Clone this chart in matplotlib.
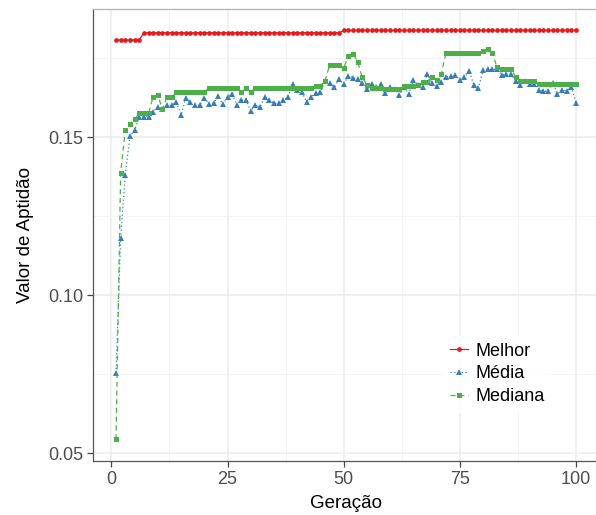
import numpy as np
import matplotlib
matplotlib.use("Agg")
import matplotlib.pyplot as plt
from matplotlib.ticker import MultipleLocator

plt.rcParams['font.family'] = ['Liberation Sans', 'DejaVu Sans']

# Evolução da aptidão por geração
geracao = list(range(1, 101))

melhor = [0.1807] * 6 + [0.1830] * 43 + [0.1837] * 51

media = [
    0.0753, 0.1180, 0.1380, 0.1502, 0.1522, 0.1564, 0.1564, 0.1564, 0.1580, 0.1596,
    0.1588, 0.1600, 0.1600, 0.1610, 0.1570, 0.1622, 0.1610, 0.1600, 0.1600, 0.1625,
    0.1604, 0.1608, 0.1629, 0.1603, 0.1627, 0.1636, 0.1601, 0.1617, 0.1617, 0.1582,
    0.1601, 0.1595, 0.1627, 0.1617, 0.1607, 0.1607, 0.1617, 0.1626, 0.1668, 0.1649,
    0.1642, 0.1612, 0.1628, 0.1638, 0.1643, 0.1678, 0.1672, 0.1657, 0.1682, 0.1668,
    0.1693, 0.1688, 0.1682, 0.1670, 0.1651, 0.1668, 0.1659, 0.1668, 0.1640, 0.1657,
    0.1651, 0.1633, 0.1659, 0.1636, 0.1680, 0.1665, 0.1657, 0.1700, 0.1670, 0.1661,
    0.1675, 0.1689, 0.1692, 0.1695, 0.1681, 0.1689, 0.1710, 0.1665, 0.1654, 0.1712,
    0.1714, 0.1714, 0.1714, 0.1697, 0.1698, 0.1698, 0.1678, 0.1665, 0.1677, 0.1668,
    0.1668, 0.1648, 0.1645, 0.1645, 0.1672, 0.1636, 0.1649, 0.1646, 0.1657, 0.1609,
]

mediana = (
    [0.0544, 0.1386, 0.1523, 0.1542, 0.1556, 0.1575, 0.1575, 0.1575, 0.1628, 0.1632,
     0.1588, 0.1627, 0.1627, 0.1641]
    + [0.1643] * 6
    + [0.1655] * 7
    + [0.1642, 0.1655, 0.1643]
    + [0.1655] * 13
    + [0.1662, 0.1662, 0.1678, 0.1729, 0.1729, 0.1729, 0.1717, 0.1757, 0.1763, 0.1738,
       0.1689, 0.1665, 0.1655, 0.1655, 0.1655, 0.1653, 0.1653, 0.1653, 0.1653, 0.1660,
       0.1660, 0.1660, 0.1663, 0.1673, 0.1675, 0.1690, 0.1680, 0.1700]
    + [0.1765] * 8
    + [0.1772, 0.1778, 0.1765, 0.1721, 0.1715, 0.1715, 0.1715, 0.1691]
    + [0.1677] * 4
    + [0.1667] * 9
)

series = [
    ("Melhor", melhor, "#E41A1C", "o", "-", 3.4),
    ("Média", media, "#377EB8", "^", (0, (1, 2)), 4.6),
    ("Mediana", mediana, "#4DAF4A", "s", (0, (4, 3)), 3.6),
]

fig = plt.figure(figsize=(5.96, 5.15), dpi=100)
ax = fig.add_axes([93 / 596, 54 / 515, 506 / 596, 452 / 515])

for nome, valores, cor, marcador, estilo, tam in series:
    ax.plot(geracao, valores, color=cor, linestyle=estilo, linewidth=0.9,
            marker=marcador, markersize=tam, markeredgewidth=0, label=nome)

ax.set_xlim(-3.95, 104.95)
ax.set_ylim(0.0475, 0.1905)
ax.xaxis.set_major_locator(MultipleLocator(25))
ax.xaxis.set_minor_locator(MultipleLocator(12.5))
ax.yaxis.set_major_locator(MultipleLocator(0.05))
ax.yaxis.set_minor_locator(MultipleLocator(0.025))
ax.yaxis.set_major_formatter(plt.FuncFormatter(lambda v, p: f"{v:.2f}"))

ax.grid(which="major", color="#EBEBEB", linewidth=1.1)
ax.grid(which="minor", color="#F2F2F2", linewidth=0.6)
ax.set_axisbelow(True)

for lado in ["top", "right"]:
    ax.spines[lado].set_color("#B3B3B3")
for lado in ["left", "bottom"]:
    ax.spines[lado].set_color("#555555")
for s in ax.spines.values():
    s.set_linewidth(0.9)

ax.tick_params(which="major", length=4, width=0.9, color="#444444",
               labelsize=13, labelcolor="#4D4D4D", pad=3)
ax.tick_params(which="minor", length=0)

ax.set_xlabel("Geração", fontsize=13.5, labelpad=5)
ax.set_ylabel("Valor de Aptidão", fontsize=13.5, labelpad=10)

leg = ax.legend(loc="center", bbox_to_anchor=(497 / 596, 1 - 374 / 515),
                bbox_transform=fig.transFigure, frameon=True, fontsize=13,
                handlelength=1.0, handletextpad=0.4, labelspacing=0.32,
                borderpad=0.4)
leg.get_frame().set_facecolor("white")
leg.get_frame().set_edgecolor("none")

fig.savefig("out.png", dpi=100)
